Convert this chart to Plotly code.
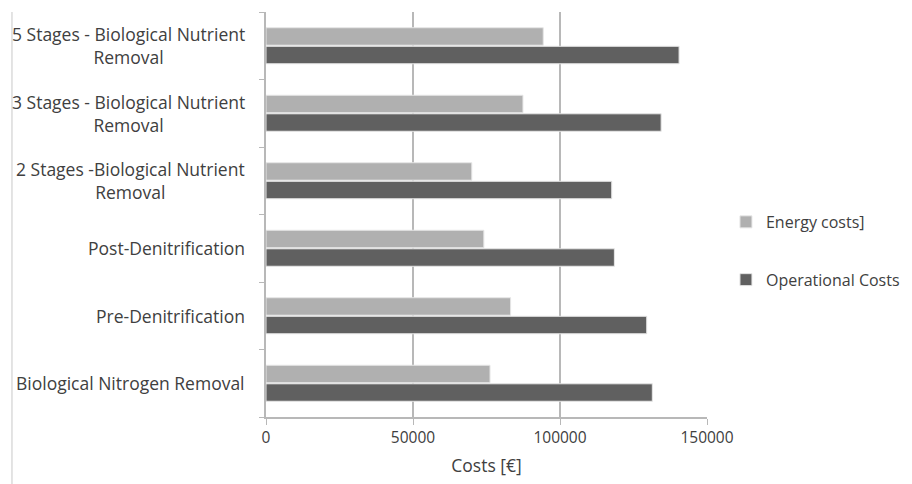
import plotly.graph_objects as go

categories = [
    "Biological Nitrogen Removal",
    "Pre-Denitrification",
    "Post-Denitrification",
    "2 Stages -Biological Nutrient<br>Removal",
    "3 Stages - Biological Nutrient<br>Removal",
    "5 Stages - Biological Nutrient<br>Removal",
]
energy_costs = [76200, 83200, 74100, 70000, 87400, 94300]
operational_costs = [131400, 129500, 118500, 117600, 134400, 140500]
x_ticks = [0, 50000, 100000, 150000]

FONT = "Open Sans"
TXT = "#404040"
FS = 17

fig = go.Figure()
fig.add_trace(go.Bar(
    y=categories, x=operational_costs, orientation="h", name="Operational Costs",
    marker=dict(color="#606060", line=dict(color="#e6e6e6", width=1)),
    legendrank=2, legendgroup="op",
))
fig.add_trace(go.Bar(
    y=categories, x=energy_costs, orientation="h", name="Energy costs]",
    marker=dict(color="#b0b0b0", line=dict(color="#e6e6e6", width=1)),
    legendrank=1, legendgroup="en",
))

annotations = []
for c in categories:
    annotations.append(dict(
        x=-0.043, xref="paper", y=c, yref="y", text=c, showarrow=False,
        xanchor="right", yanchor="middle", align="center",
        font=dict(family=FONT, size=17.5, color=TXT),
    ))

fig.update_layout(
    width=904, height=476,
    margin=dict(l=258, r=205, t=4, b=67, autoexpand=False),
    paper_bgcolor="white", plot_bgcolor="white",
    barmode="group", bargap=0.45, bargroupgap=0.06,
    font=dict(family=FONT, size=FS, color=TXT),
    showlegend=True,
    legend=dict(
        x=1.043, xanchor="left", y=0.41, yanchor="middle",
        traceorder="grouped", tracegroupgap=34,
        font=dict(family=FONT, size=16, color=TXT),
        itemwidth=30,
    ),
    annotations=annotations,
    shapes=[dict(type="line", xref="paper", yref="paper",
                 x0=-0.576, x1=-0.576, y0=-0.166, y1=1.0,
                 line=dict(color="#c8c8c8", width=1))],
)
fig.update_xaxes(
    range=[0, 150000], tickvals=x_ticks, ticktext=[str(v) for v in x_ticks],
    showgrid=True, gridcolor="#b8b8b8", gridwidth=1.5,
    showline=True, linecolor="#b8b8b8", linewidth=1.5,
    ticks="outside", ticklen=6, tickcolor="#b8b8b8",
    zeroline=False,
    title=dict(text="Costs [€]", font=dict(family=FONT, size=17.5, color=TXT), standoff=12),
    tickfont=dict(family=FONT, size=15.5, color=TXT),
)
fig.update_yaxes(
    categoryorder="array", categoryarray=categories,
    showticklabels=False, showgrid=False,
    showline=True, linecolor="#b8b8b8", linewidth=1.5,
    ticks="outside", ticklen=5, tickcolor="#b8b8b8", tickson="boundaries",
)

fig.write_html("out.html")
